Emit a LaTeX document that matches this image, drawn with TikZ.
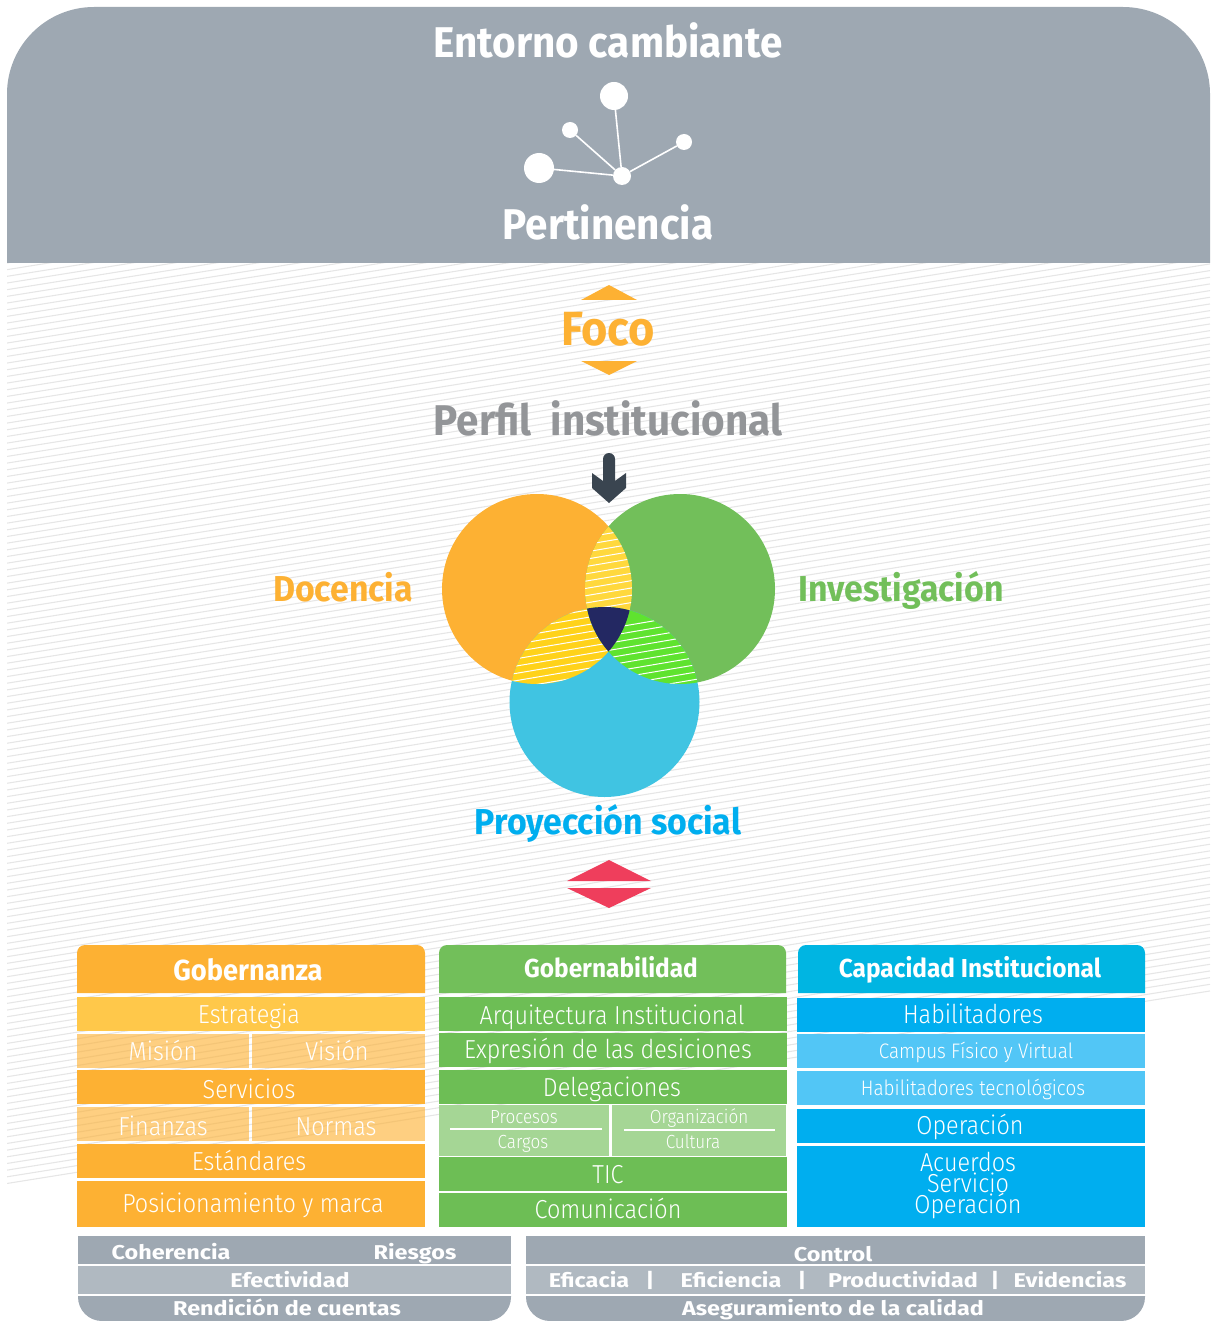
\documentclass[tikz,border=0pt]{standalone}
\usepackage{fontspec}
\usepackage{xcolor}
\newfontfamily\condfont[FakeStretch=0.94]{Fira Sans}
\newfontfamily\narrowfont[FakeStretch=0.9]{Fira Sans Light}
\newfontfamily\widefont[FakeStretch=1.17]{Fira Sans}
\definecolor{slate}{HTML}{9EA8B2}
\definecolor{slatelight}{HTML}{B0B9C1}
\definecolor{hatchgray}{HTML}{E6E6E6}
\definecolor{docorange}{HTML}{FDB133}
\definecolor{docyellow}{HTML}{FFC84A}
\definecolor{invgreen}{HTML}{72BF5A}
\definecolor{govgreen}{HTML}{6DBE55}
\definecolor{govlight}{HTML}{A5D695}
\definecolor{proyblue}{HTML}{40C4E2}
\definecolor{capblue}{HTML}{00AEEF}
\definecolor{capcyan}{HTML}{00B5E2}
\definecolor{caplight}{HTML}{52C6F6}
\definecolor{navy}{HTML}{232862}
\definecolor{redtip}{HTML}{EF3E5C}
\definecolor{arrowdark}{HTML}{3A4550}
\definecolor{perfilgray}{HTML}{939598}
\definecolor{lensyellow}{HTML}{FFD83D}
\definecolor{lensgold}{HTML}{FFD21A}
\definecolor{lensgreen}{HTML}{5FE32F}
\tikzset{
  bigtitle/.style={inner sep=0,text height=30pt,text depth=0pt,font=\condfont\bfseries\fontsize{43}{43}\selectfont},
  focotitle/.style={inner sep=0,text height=33pt,text depth=0pt,font=\condfont\bfseries\fontsize{48}{48}\selectfont},
  midtitle/.style={inner sep=0,text height=25pt,text depth=0pt,font=\condfont\bfseries\fontsize{36}{36}\selectfont},
  headtext/.style={inner sep=0,text=white,text height=18pt,text depth=0pt,font=\condfont\bfseries\fontsize{26}{26}\selectfont},
  headbig/.style={inner sep=0,text=white,text height=20pt,text depth=0pt,font=\condfont\bfseries\fontsize{29}{29}\selectfont},
  rowtext/.style={inner sep=0,text=white,text height=18pt,text depth=0pt,font=\narrowfont\fontsize{26}{26}\selectfont},
  stacktext/.style={inner sep=0,text=white,align=center,font=\narrowfont\fontsize{26}{21}\selectfont},
  smalltext/.style={inner sep=0,text=white,text height=14pt,text depth=0pt,font=\narrowfont\fontsize{21}{21}\selectfont},
  tinytext/.style={inner sep=0,text=white,text height=13pt,text depth=0pt,font=\narrowfont\fontsize{19}{19}\selectfont},
  bartext/.style={inner sep=0,text=white,text height=14pt,text depth=0pt,font=\widefont\bfseries\fontsize{20}{20}\selectfont},
  dot/.style={circle,fill=white,inner sep=0,minimum size=#1},
  link/.style={white,line width=1.6pt},
  lensline/.style={white,line width=1pt},
  paleorange/.style={fill=docorange,opacity=0.62},
}
\begin{document}
\begin{tikzpicture}[x=1pt,y=-1pt]
  \useasboundingbox (0,0) rectangle (1219,1321);
  % hatched background
  \begin{scope}
    \clip (7,263) rectangle (1210,1200);
    \foreach \yy in {263,269.67,...,1189}
      \draw[hatchgray,line width=1.1pt] (7,\yy) -- (1210,\yy-192.5);
  \end{scope}
  % header
  \fill[slate] (7,263) {[rounded corners=87] -- (7,7) -- (1210,7)} -- (1210,263) -- cycle;
  \node[bigtitle,text=white] (entorno) at (608,43) {Entorno cambiante};
  \node[bigtitle,text=white] (pertinencia) at (608,225) {Pertinencia};
  % network icon
  \node[dot=18pt] (hub) at (622,176) {};
  \node[dot=28pt] (netA) at (614,96) {};
  \node[dot=16pt] (netB) at (570,130) {};
  \node[dot=16pt] (netC) at (684,142) {};
  \node[dot=30pt] (netD) at (539,168) {};
  \draw[link] (hub) -- (netA);
  \draw[link] (hub) -- (netB);
  \draw[link] (hub) -- (netC);
  \draw[link] (hub) -- (netD);
  % foco
  \fill[docorange] (581,300) -- (609,285) -- (637,300) -- cycle;
  \fill[docorange] (581,361) -- (637,361) -- (609,375) -- cycle;
  \node[focotitle,text=docorange] (foco) at (608,329) {Foco};
  \node[bigtitle,text=perfilgray] (perfil) at (608,420) {Perfil\ \ institucional};
  % arrow
  \fill[arrowdark] (603,459) arc[start angle=180,end angle=360,radius=6] -- (615,481) -- (626,473) -- (626,488) -- (609,503) -- (592,488) -- (592,473) -- (603,481) -- cycle;
  % circles
  \coordinate (doc) at (537,589);
  \coordinate (inv) at (680,589);
  \coordinate (proy) at (604.5,702);
  \fill[docorange] (doc) circle (95);
  \fill[invgreen] (inv) circle (95);
  \fill[proyblue] (proy) circle (95);
  \begin{scope}
    \clip (doc) circle (95);
    \clip (inv) circle (95);
    \fill[lensyellow] (500,500) rectangle (720,720);
    \foreach \yy in {540,547.3,...,640}
      \draw[lensline] (570,\yy) -- (650,\yy-13.6);
  \end{scope}
  \begin{scope}
    \clip (doc) circle (95);
    \clip (proy) circle (95);
    \fill[lensgold] (500,500) rectangle (720,720);
    \foreach \yy in {625,632.3,...,710}
      \draw[lensline] (500,\yy) -- (620,\yy-20.4);
  \end{scope}
  \begin{scope}
    \clip (inv) circle (95);
    \clip (proy) circle (95);
    \fill[lensgreen] (500,500) rectangle (720,720);
    \foreach \yy in {630,637.3,...,730}
      \draw[lensline] (600,\yy) -- (710,\yy-18.7);
  \end{scope}
  \begin{scope}
    \clip (doc) circle (95);
    \clip (inv) circle (95);
    \fill[navy] (proy) circle (95);
  \end{scope}
  \node[midtitle,text=docorange] (docencia) at (343,589) {Docencia};
  \node[midtitle,text=invgreen] (investigacion) at (901,589) {Investigación};
  \node[midtitle,text=capblue] (proyeccion) at (608,822) {Proyección social};
  % red tips
  \fill[redtip] (567,881) -- (609,860) -- (651,881) -- cycle;
  \fill[redtip] (567,888) -- (651,888) -- (609,908) -- cycle;
  % gobernanza
  \fill[docorange] (77,993) {[rounded corners=8] -- (77,945) -- (425,945)} -- (425,993) -- cycle;
  \fill[docyellow] (77,997) rectangle (425,1031);
  \fill[paleorange] (77,1034) rectangle (249,1068);
  \fill[paleorange] (252,1034) rectangle (425,1068);
  \fill[docorange] (77,1070) rectangle (425,1104);
  \fill[paleorange] (77,1107) rectangle (249,1141);
  \fill[paleorange] (252,1107) rectangle (425,1141);
  \fill[docorange] (77,1144) rectangle (425,1178);
  \fill[docorange] (77,1181) rectangle (425,1227);
  \node[headbig] (gobernanza) at (248,970) {Gobernanza};
  \node[rowtext] (estrategia) at (249,1014) {Estrategia};
  \node[rowtext] (mision) at (163,1051) {Misión};
  \node[rowtext] (vision) at (337,1051) {Visión};
  \node[rowtext] (servicios) at (249,1089) {Servicios};
  \node[rowtext] (finanzas) at (163,1126) {Finanzas};
  \node[rowtext] (normas) at (336,1126) {Normas};
  \node[rowtext] (estandares) at (249,1161) {Estándares};
  \node[rowtext] (posicion) at (253,1203) {Posicionamiento y marca};
  % gobernabilidad
  \fill[invgreen] (439,993) {[rounded corners=8] -- (439,945) -- (786,945)} -- (786,993) -- cycle;
  \fill[govgreen] (439,997) rectangle (787,1031);
  \fill[govgreen] (439,1033) rectangle (787,1067);
  \fill[govgreen] (439,1070) rectangle (787,1104);
  \fill[govlight] (439,1105) rectangle (609,1156);
  \fill[govlight] (612,1105) rectangle (786,1156);
  \fill[govgreen] (439,1157) rectangle (787,1191);
  \fill[govgreen] (439,1193) rectangle (787,1227);
  \draw[white,line width=2pt] (450,1129) -- (602,1129);
  \draw[white,line width=2pt] (624,1130) -- (775,1130);
  \node[headtext] (gobernab) at (611,968) {Gobernabilidad};
  \node[rowtext] (arquitectura) at (612,1015) {Arquitectura Institucional};
  \node[rowtext] (expresion) at (608,1049) {Expresión de las desiciones};
  \node[rowtext] (delegaciones) at (612,1087) {Delegaciones};
  \node[tinytext] (procesos) at (524,1117) {Procesos};
  \node[tinytext] (cargos) at (523,1142) {Cargos};
  \node[tinytext] (organizacion) at (699,1117) {Organización};
  \node[tinytext] (cultura) at (693,1142) {Cultura};
  \node[rowtext] (tic) at (608,1174) {TIC};
  \node[rowtext] (comunicacion) at (608,1209) {Comunicación};
  % capacidad
  \fill[capcyan] (798,993) {[rounded corners=8] -- (798,945) -- (1145,945)} -- (1145,993) -- cycle;
  \fill[capblue] (797,998) rectangle (1145,1032);
  \fill[caplight] (797,1034) rectangle (1145,1068);
  \fill[caplight] (797,1071) rectangle (1145,1105);
  \fill[capblue] (797,1109) rectangle (1145,1143);
  \fill[capblue] (797,1146) rectangle (1145,1227);
  \node[headtext] (capacidad) at (970,968) {Capacidad Institucional};
  \node[rowtext] (habilita) at (973,1014) {Habilitadores};
  \node[smalltext] (campus) at (976,1051) {Campus Físico y Virtual};
  \node[smalltext] (habtec) at (973,1088) {Habilitadores tecnológicos};
  \node[rowtext] (operacion) at (970,1125) {Operación};
  \node[stacktext] (acuerdos) at (968,1185) {Acuerdos\\Servicio\\Operación};
  % bottom left
  \fill[slate] (78,1236) rectangle (511,1264);
  \fill[slatelight] (78,1266) rectangle (511,1294);
  \fill[slate] (78,1296) -- (511,1296) {[rounded corners=24] -- (511,1321) -- (78,1321)} -- cycle;
  \node[bartext] (coherencia) at (171,1252) {Coherencia};
  \node[bartext] (riesgos) at (415,1252) {Riesgos};
  \node[bartext] (efectividad) at (290,1280) {Efectividad};
  \node[bartext] (rendicion) at (287,1308) {Rendición de cuentas};
  % bottom right
  \fill[slate] (526,1236) rectangle (1145,1264);
  \fill[slatelight] (526,1266) rectangle (1145,1294);
  \fill[slate] (526,1296) -- (1145,1296) {[rounded corners=24] -- (1145,1321) -- (526,1321)} -- cycle;
  \node[bartext] (control) at (833,1254) {Control};
  \node[bartext] (eficacia) at (589,1280) {Eficacia};
  \node[bartext] (barA) at (650,1280) {|};
  \node[bartext] (eficiencia) at (731,1280) {Eficiencia};
  \node[bartext] (barB) at (802,1280) {|};
  \node[bartext] (productividad) at (903,1280) {Productividad};
  \node[bartext] (barC) at (995,1280) {|};
  \node[bartext] (evidencias) at (1070,1280) {Evidencias};
  \node[bartext] (asegura) at (833,1308) {Aseguramiento de la calidad};
\end{tikzpicture}
\end{document}
